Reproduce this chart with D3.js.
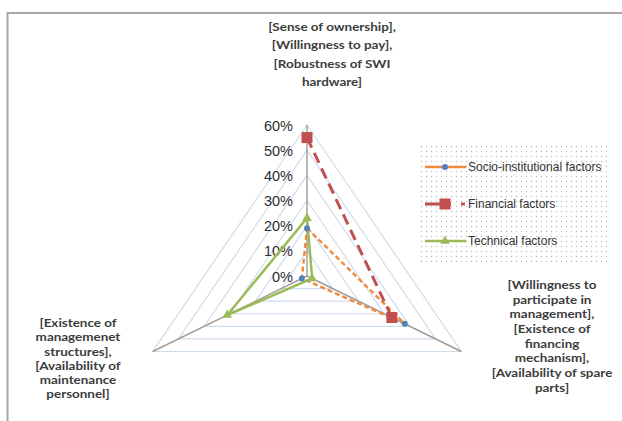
<!DOCTYPE html>
<html>
<head>
<meta charset="utf-8">
<script src="https://cdn.jsdelivr.net/npm/d3@7"></script>
<style>
  html, body { margin: 0; padding: 0; background: #fff; }
  svg { display: block; }
</style>
</head>
<body>
<svg id="chart" width="622" height="421"></svg>
<script>
// ---- data ----
const categories = [
  ["[Sense of ownership],", "[Willingness to pay],", "[Robustness of SWI", "hardware]"],
  ["[Willingness to", "participate in", "management],", "[Existence of", "financing", "mechanism],", "[Availability of spare", "parts]"],
  ["[Existence of", "managemenet", "structures],", "[Availability of", "maintenance", "personnel]"]
];
const seriesNames = ["Socio-institutional factors", "Financial factors", "Technical factors"];
const socioValues = [0.19, 0.38, 0.02];
const financialValues = [0.55, 0.33, null];
const technicalValues = [0.23, 0.02, 0.31];
const tickValues = [0, 0.1, 0.2, 0.3, 0.4, 0.5, 0.6];

// ---- layout ----
const svg = d3.select("#chart");
const W = 622, H = 421;
const cx = 307, cy = 276;
const R = 151;          // radius of 60%
const sx = 1.18;        // horizontal stretch of the original picture
const r = d3.scaleLinear().domain([0, 0.6]).range([0, R]);
const angles = [Math.PI / 2, -Math.PI / 6, Math.PI * 7 / 6];
const pt = (i, v) => [cx + sx * r(v) * Math.cos(angles[i]), cy - r(v) * Math.sin(angles[i])];

svg.append("rect").attr("width", W).attr("height", H).attr("fill", "#fff");

// frame
svg.append("path").attr("d", `M7.5,${H} L7.5,13 L${W},13`)
  .attr("fill", "none").attr("stroke", "#aaa6a2").attr("stroke-width", 2);

// grid
const gridG = svg.append("g");
tickValues.slice(1).forEach(t => {
  const pts = [0, 1, 2].map(i => pt(i, t));
  gridG.append("path")
    .attr("d", d3.line()(pts) + "Z")
    .attr("fill", "none").attr("stroke", "#cfdcee").attr("stroke-width", 1.2);
});

// spokes
[0, 1, 2].forEach(i => {
  const [x, y] = pt(i, 0.6);
  svg.append("line").attr("x1", cx).attr("y1", cy).attr("x2", x).attr("y2", y)
    .attr("stroke", "#a39a94").attr("stroke-width", 1.4);
});

// radial axis ticks
const yAxisScale = d3.scaleLinear().domain([0, 0.6]).range([cy, cy - R]);
const axisG = svg.append("g").attr("transform", `translate(${cx - 14},0)`)
  .call(d3.axisLeft(yAxisScale).tickValues(tickValues).tickSize(0).tickPadding(0)
    .tickFormat(d3.format(".0%")));
axisG.select(".domain").remove();
axisG.selectAll("text").attr("font-family", "Liberation Sans, Arial, sans-serif")
  .attr("font-size", 14.5).attr("fill", "#2e2e2e").attr("dy", "0.35em");

// series
const styles = [
  { color: "#f08a3c", dash: "5,3", width: 2.4 },
  { color: "#c0504d", dash: "11,6", width: 3 },
  { color: "#9bbb59", dash: null, width: 2.5 }
];
const allSeries = [socioValues, financialValues, technicalValues];

allSeries.forEach((vals, s) => {
  const closed = vals.concat([vals[0]]);
  const line = d3.line()
    .defined(d => d.v !== null)
    .x(d => pt(d.i, d.v)[0]).y(d => pt(d.i, d.v)[1]);
  const data = closed.map((v, k) => ({ i: k % 3, v }));
  svg.append("path").attr("d", line(data))
    .attr("fill", "none").attr("stroke", styles[s].color)
    .attr("stroke-width", styles[s].width)
    .attr("stroke-dasharray", styles[s].dash);
});

function marker(g, s, x, y) {
  if (s === 0) {
    g.append("circle").attr("cx", x).attr("cy", y).attr("r", 3).attr("fill", "#4f81bd");
  } else if (s === 1) {
    g.append("rect").attr("x", x - 5.5).attr("y", y - 5.5).attr("width", 11).attr("height", 11).attr("fill", "#c0504d");
  } else {
    g.append("path").attr("d", d3.symbol().type(d3.symbolTriangle).size(40)()).attr("transform", `translate(${x},${y})`).attr("fill", "#9bbb59");
  }
}
const markG = svg.append("g");
allSeries.forEach((vals, s) => {
  vals.forEach((v, i) => {
    if (v === null) return;
    const [x, y] = pt(i, v);
    marker(markG, s, x, y);
  });
});

// category labels
const labelFont = "Lato, Open Sans, sans-serif";
const labelPos = [
  { x: 332, y: 31, lh: 18.5 },
  { x: 552, y: 289, lh: 14.7 },
  { x: 78, y: 327, lh: 14.3 }
];
categories.forEach((lines, i) => {
  const g = svg.append("g").attr("transform", `translate(${labelPos[i].x},${labelPos[i].y}) scale(1.14,1)`);
  lines.forEach((ln, k) => {
    g.append("text").attr("text-anchor", "middle")
      .attr("font-family", labelFont).attr("font-size", 11.8).attr("font-weight", 700)
      .attr("fill", "#3c3c3c")
      .attr("x", 0).attr("y", k * labelPos[i].lh).text(ln);
  });
});

// legend
const defs = svg.append("defs");
const pat = defs.append("pattern").attr("id", "dots").attr("patternUnits", "userSpaceOnUse")
  .attr("width", 5).attr("height", 5);
pat.append("rect").attr("width", 5).attr("height", 5).attr("fill", "#fff");
pat.append("circle").attr("cx", 1.5).attr("cy", 1.5).attr("r", 0.7).attr("fill", "#b6bcc6");
svg.append("rect").attr("x", 419).attr("y", 144).attr("width", 188).attr("height", 118)
  .attr("fill", "url(#dots)");

const legY = [167, 204, 241];
seriesNames.forEach((name, s) => {
  const g = svg.append("g");
  g.append("line").attr("x1", 425).attr("x2", 466).attr("y1", legY[s]).attr("y2", legY[s])
    .attr("stroke", styles[s].color).attr("stroke-width", styles[s].width)
    .attr("stroke-dasharray", s === 1 ? "26,10,4,20" : null);
  marker(g, s, 445, legY[s]);
  g.append("text").attr("x", 468).attr("y", legY[s]).attr("dy", "0.35em")
    .attr("font-family", "Liberation Sans, Arial, sans-serif").attr("font-size", 12)
    .attr("fill", "#333").text(name);
});
</script>
</body>
</html>
